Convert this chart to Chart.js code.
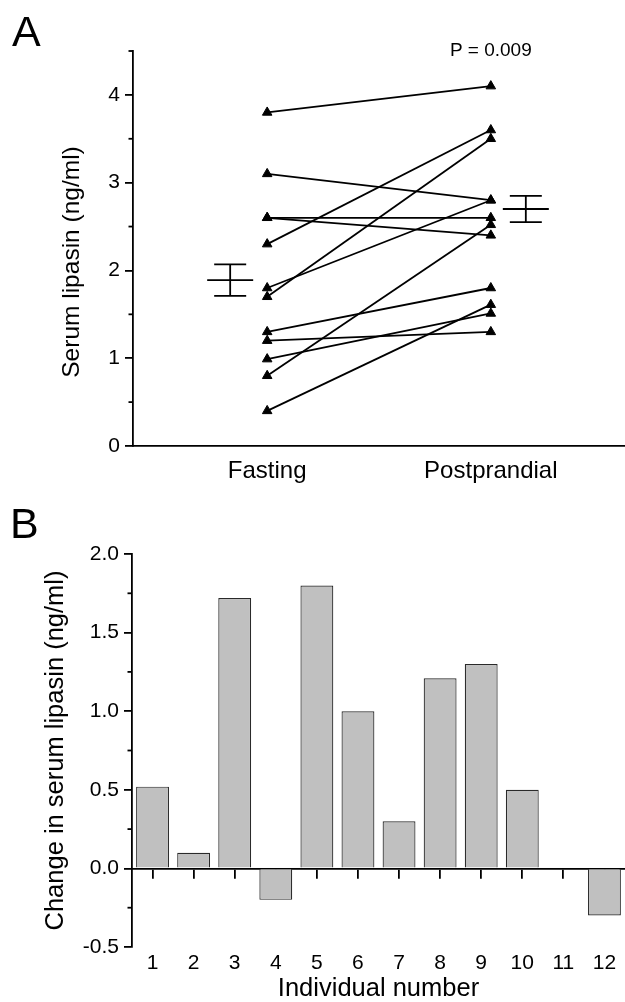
<!DOCTYPE html>
<html><head><meta charset="utf-8">
<script src="https://cdn.jsdelivr.net/npm/chart.js@4.4.1/dist/chart.umd.min.js"></script>
<style>
html,body{margin:0;padding:0;background:#fff;width:625px;height:1002px;overflow:hidden;}
#wrap{position:relative;width:625px;height:1002px;}
canvas{position:absolute;left:0;}
#cA{top:0;} #cB{top:500px;}
.panel{position:absolute;font-family:"Liberation Sans",Arial,sans-serif;font-size:43px;line-height:43px;color:#000;}
</style></head><body>
<div id="wrap">
<canvas id="cA" width="625" height="600"></canvas>
<canvas id="cB" width="625" height="502"></canvas>
<div class="panel" style="left:12px;top:10px;">A</div>
<div class="panel" style="left:10px;top:502px;">B</div>
</div>
<script>
// ---- data ----
const groups = ['Fasting', 'Postprandial'];
const individuals = ['1','2','3','4','5','6','7','8','9','10','11','12'];
const fasting      = [0.99, 1.2, 0.8, 2.6, 1.7, 1.8, 3.8, 0.4, 2.3, 1.3, 2.6, 3.1];
const postprandial = [1.51, 1.3, 2.52, 2.4, 3.5, 2.8, 4.1, 1.61, 3.6, 1.8, 2.6, 2.8];
const groupMeans   = [1.89, 2.70];
const groupErrLow  = [1.71, 2.55];
const groupErrHigh = [2.07, 2.85];
const changes = [0.52, 0.1, 1.72, -0.2, 1.8, 1.0, 0.3, 1.21, 1.3, 0.5, 0, -0.3];
const pValueText = 'P = 0.009';
const yTitleA = 'Serum lipasin (ng/ml)';
const yTitleB = 'Change in serum lipasin (ng/ml)';
const xTitleB = 'Individual number';

const FONT = '"Liberation Sans", Arial, sans-serif';
Chart.defaults.font.family = FONT;
Chart.defaults.color = '#000';
Chart.defaults.animation = false;

const AXW = 1.8;

const minorTicks = {
  id: 'minorTicks',
  afterDraw(chart, args, opts) {
    const s = chart.scales.y, ctx = chart.ctx;
    ctx.save(); ctx.strokeStyle = '#000'; ctx.lineWidth = AXW;
    for (let v = opts.start; v <= opts.end + 1e-9; v += opts.step) {
      const y = s.getPixelForValue(v);
      ctx.beginPath(); ctx.moveTo(s.right, y); ctx.lineTo(s.right - opts.length, y); ctx.stroke();
    }
    ctx.restore();
  }
};

const errorBars = {
  id: 'errorBars',
  afterDatasetsDraw(chart, args, opts) {
    const xs = chart.scales.x, ys = chart.scales.y, ctx = chart.ctx;
    ctx.save(); ctx.strokeStyle = '#000'; ctx.lineWidth = 1.8;
    groupMeans.forEach((m, i) => {
      const cx = xs.getPixelForValue(i + 1) + opts.offsets[i];
      const ym = ys.getPixelForValue(m), yl = ys.getPixelForValue(groupErrLow[i]), yh = ys.getPixelForValue(groupErrHigh[i]);
      ctx.beginPath();
      ctx.moveTo(cx - opts.meanHalf, ym); ctx.lineTo(cx + opts.meanHalf, ym);
      ctx.moveTo(cx - opts.capHalf, yl); ctx.lineTo(cx + opts.capHalf, yl);
      ctx.moveTo(cx - opts.capHalf, yh); ctx.lineTo(cx + opts.capHalf, yh);
      ctx.moveTo(cx, yl); ctx.lineTo(cx, yh);
      ctx.stroke();
    });
    ctx.restore();
  }
};

const annotText = {
  id: 'annotText',
  afterDraw(chart, args, opts) {
    const ctx = chart.ctx;
    ctx.save();
    ctx.fillStyle = '#000';
    ctx.font = '19px ' + FONT;
    ctx.textAlign = 'center'; ctx.textBaseline = 'middle';
    ctx.fillText(pValueText, chart.scales.x.getPixelForValue(2), chart.chartArea.top);
    ctx.translate(opts.titleX, opts.titleY);
    ctx.rotate(-Math.PI / 2);
    ctx.font = '24.5px ' + FONT;
    ctx.fillText(yTitleA, 0, 0);
    ctx.restore();
  }
};

// ---- Panel A ----
const lineSets = fasting.map((f, i) => ({
  data: [{x: 1, y: f}, {x: 2, y: postprandial[i]}],
  showLine: true,
  borderColor: '#000', borderWidth: 1.8,
  pointStyle: 'triangle', pointRadius: 5.5, pointBorderWidth: 1,
  pointBackgroundColor: '#000', pointBorderColor: '#000'
}));

new Chart(document.getElementById('cA'), {
  type: 'scatter',
  data: { datasets: lineSets },
  options: {
    responsive: false, devicePixelRatio: 1,
    layout: { autoPadding: false, padding: { top: 51, left: 0, right: 0, bottom: 0 } },
    plugins: {
      legend: { display: false }, tooltip: { enabled: false },
      minorTicks: { start: 0.5, end: 4.5, step: 1, length: 4.5 },
      errorBars: { offsets: [-37, 35], meanHalf: 23, capHalf: 16 },
      annotText: { titleX: 72, titleY: 262 }
    },
    scales: {
      x: {
        type: 'linear', min: 0.4, max: 2.6,
        afterBuildTicks(s) { s.ticks = [{value: 1}, {value: 2}]; },
        ticks: { callback: v => groups[Math.round(v) - 1], font: { size: 24 }, padding: 11, color: '#000', maxRotation: 0 },
        grid: { display: false, drawTicks: false },
        border: { display: true, color: '#000', width: AXW },
        afterFit(s) { s.height = 154; s.paddingLeft = 0; s.paddingRight = 0; }
      },
      y: {
        min: 0, max: 4.5,
        ticks: { stepSize: 1, includeBounds: false, font: { size: 21 }, padding: 5, color: '#000' },
        grid: { drawOnChartArea: false, drawTicks: true, tickLength: 8, color: '#000', lineWidth: AXW, tickColor: '#000', tickWidth: AXW },
        border: { display: true, color: '#000', width: AXW },
        afterFit(s) { s.width = 133; }
      }
    }
  },
  plugins: [minorTicks, errorBars, annotText]
});

// ---- Panel B ----
new Chart(document.getElementById('cB'), {
  type: 'bar',
  data: {
    labels: individuals,
    datasets: [{
      data: changes,
      backgroundColor: '#c0c0c0', borderColor: '#2a2a2a', borderWidth: 1.2,
      barPercentage: 0.8, categoryPercentage: 1.0
    }]
  },
  options: {
    responsive: false, devicePixelRatio: 1,
    layout: { autoPadding: false, padding: { top: 54, left: 0, right: 0, bottom: 0 } },
    plugins: {
      legend: { display: false }, tooltip: { enabled: false },
      minorTicks: { start: -0.25, end: 1.75, step: 0.5, length: 4.5 }
    },
    scales: {
      x: {
        type: 'category', position: { y: 0 }, offset: true, z: 1,
        ticks: { display: false },
        grid: { offset: false, drawOnChartArea: false, drawTicks: true, tickLength: 9, color: '#000', tickColor: '#000', tickWidth: AXW, lineWidth: AXW },
        border: { display: true, color: '#000', width: AXW }
      },
      x2: {
        type: 'category', labels: individuals, position: 'bottom', offset: true,
        grid: { display: false, drawTicks: false }, border: { display: false },
        ticks: { font: { size: 21 }, padding: 4, color: '#000', maxRotation: 0, autoSkip: false },
        title: { display: true, text: xTitleB, font: { size: 25.5, lineHeight: 1 }, padding: { top: 0, bottom: 0 }, color: '#000' },
        afterFit(s) { s.height = 55; s.paddingLeft = 0; s.paddingRight = 0; }
      },
      y: {
        min: -0.5, max: 2.0,
        ticks: { stepSize: 0.5, font: { size: 21 }, padding: 5, color: '#000', callback: v => Number(v).toFixed(1) },
        grid: { drawOnChartArea: false, drawTicks: true, tickLength: 8, color: '#000', lineWidth: AXW, tickColor: '#000', tickWidth: AXW },
        border: { display: true, color: '#000', width: AXW },
        title: { display: true, text: yTitleB, font: { size: 25.5, lineHeight: 1 }, padding: { top: 42.75, bottom: 0 }, color: '#000' },
        afterFit(s) { s.width = 132; }
      }
    }
  },
  plugins: [minorTicks]
});
</script>
</body></html>
